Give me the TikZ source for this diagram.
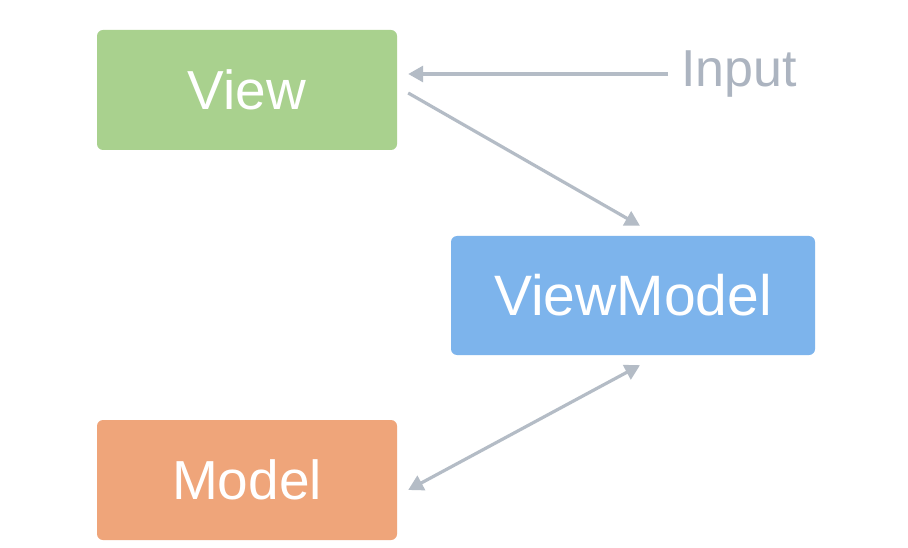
\documentclass[tikz,border=0pt]{standalone}
\usepackage{fontspec}
\setmainfont{Liberation Sans}
\usetikzlibrary{arrows.meta}
\definecolor{cgreen}{HTML}{A9D18E}
\definecolor{cblue}{HTML}{7DB4EC}
\definecolor{corange}{HTML}{EFA57A}
\definecolor{cgrey}{HTML}{B4BCC6}
\definecolor{ctext}{HTML}{ACB4C0}
\begin{document}
\begin{tikzpicture}[x=1pt,y=-1pt,
  box/.style={rounded corners=6pt, inner sep=0pt, text=white, font=\fontsize{55}{60}\selectfont},
  arr/.style={draw=cgrey, line width=3.2pt, -{Triangle[length=15pt,width=16pt]}},
  darr/.style={draw=cgrey, line width=3.2pt, {Triangle[length=15pt,width=16pt]}-{Triangle[length=15pt,width=16pt]}}]
\fill[white] (0,0) rectangle (908,548);
\useasboundingbox (0,0) rectangle (908,548);
\node[box, fill=cgreen, minimum width=300pt, minimum height=120pt] (View) at (247,90) {View};
\node[box, fill=cblue, minimum width=364pt, minimum height=119pt, font=\fontsize{57}{60}\selectfont] (VM) at (633,295.5) {ViewModel};
\node[box, fill=corange, minimum width=300pt, minimum height=120pt] (Model) at (247,480) {Model};
\node[inner sep=0pt, anchor=west, text=ctext, font=\fontsize{52}{55}\selectfont] (Input) at (681,74) {Input};
\draw[arr] ([xshift=-13pt]Input.west) -- ([xshift=11pt]View.east |- Input.west);
\draw[arr] ([xshift=11pt,yshift=-3pt]View.east) -- ([xshift=7pt,yshift=10pt]VM.north);
\draw[darr] ([xshift=7pt,yshift=-10pt]VM.south) -- ([xshift=11pt,yshift=-10pt]Model.east);
\end{tikzpicture}
\end{document}
